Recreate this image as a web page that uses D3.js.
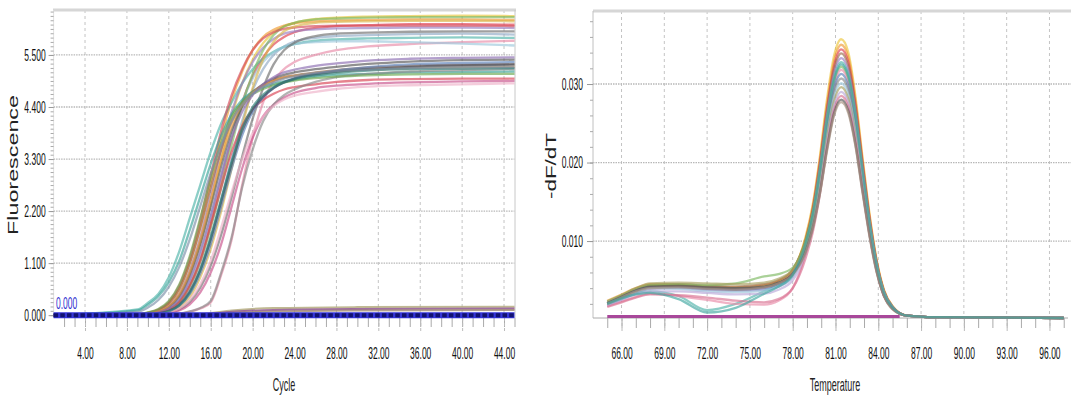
<!DOCTYPE html>
<html>
<head>
<meta charset="utf-8">
<script src="https://cdn.jsdelivr.net/npm/d3@7"></script>
<style>
  body { margin: 0; background: #fff; }
  svg { display: block; font-family: "Liberation Sans", Arial, sans-serif; }
</style>
</head>
<body>
<svg id="chart" width="1071" height="400"></svg>
<script>
// ---- amplification plot data (Fluorescence vs Cycle) ----
var ampCycles = [1, 9, 10, 11, 12, 13, 14, 15, 16, 17, 18, 19, 20, 21, 22, 23, 24, 26, 28, 31, 35, 40, 45];

var ampColors = [
  '#e8c53a', '#e03c4c', '#f09a30', '#8fa9c4', '#4fb3a9', '#e88aa8', '#9cc8dc', '#6d6d6d', '#9a7cc0', '#7cb861',
  '#d44a5a', '#d9b34a',
  '#555555', '#9b6a4a', '#3aa39a', '#d94052', '#e8963a', '#5a7fb8', '#c8508a', '#888888', '#6aa84f', '#8a6cb0',
  '#3d4a5c', '#eeb0c8', '#2f7f7a', '#7b8fa8'
];

var ampValues = [
  // upper plateau group
  [0, 0.01, 0.03, 0.07, 0.17, 0.4, 0.85, 1.5, 2.35, 3.3, 4.2, 4.9, 5.4, 5.75, 5.97, 6.1, 6.18, 6.26, 6.29, 6.31, 6.32, 6.33, 6.32],
  [0, 0, 0.02, 0.05, 0.12, 0.3, 0.65, 1.2, 1.95, 2.85, 3.75, 4.5, 5.05, 5.45, 5.72, 5.88, 5.98, 6.07, 6.11, 6.13, 6.15, 6.15, 6.14],
  [0, 0.02, 0.05, 0.11, 0.25, 0.55, 1.1, 1.85, 2.8, 3.75, 4.55, 5.15, 5.6, 5.88, 6.03, 6.12, 6.17, 6.21, 6.23, 6.24, 6.25, 6.25, 6.24],
  [0, 0, 0.01, 0.04, 0.1, 0.24, 0.52, 1.0, 1.65, 2.45, 3.3, 4.1, 4.75, 5.2, 5.5, 5.68, 5.78, 5.86, 5.9, 5.92, 5.94, 5.95, 5.93],
  [0, 0.12, 0.26, 0.45, 0.8, 1.35, 2.05, 2.75, 3.45, 4.05, 4.5, 4.9, 5.2, 5.42, 5.57, 5.67, 5.73, 5.8, 5.83, 5.85, 5.86, 5.87, 5.86],
  [0, 0, 0, 0, 0.01, 0.03, 0.07, 0.14, 0.27, 0.85, 1.6, 2.75, 3.75, 4.5, 4.95, 5.2, 5.35, 5.5, 5.6, 5.68, 5.73, 5.77, 5.8],
  [0, 0.01, 0.02, 0.06, 0.14, 0.33, 0.72, 1.3, 2.1, 2.95, 3.8, 4.5, 5.0, 5.35, 5.55, 5.67, 5.73, 5.77, 5.79, 5.79, 5.77, 5.74, 5.7],
  [0, 0, 0, 0.02, 0.05, 0.12, 0.28, 0.58, 1.05, 1.7, 2.5, 3.35, 4.15, 4.8, 5.3, 5.6, 5.76, 5.9, 5.95, 5.97, 5.99, 6.0, 6.0],
  [0, 0.01, 0.04, 0.09, 0.2, 0.46, 0.95, 1.65, 2.55, 3.5, 4.3, 4.9, 5.35, 5.65, 5.84, 5.95, 6.0, 6.04, 6.06, 6.07, 6.08, 6.08, 6.07],
  [0, 0, 0.02, 0.05, 0.11, 0.27, 0.6, 1.12, 1.85, 2.7, 3.6, 4.45, 5.1, 5.6, 5.92, 6.1, 6.18, 6.25, 6.27, 6.29, 6.3, 6.3, 6.3],
  [0, 0.02, 0.05, 0.12, 0.28, 0.62, 1.2, 2.0, 2.95, 3.9, 4.65, 5.2, 5.6, 5.85, 5.98, 6.05, 6.08, 6.11, 6.12, 6.12, 6.12, 6.12, 6.11],
  [0, 0, 0.01, 0.03, 0.07, 0.16, 0.38, 0.8, 1.4, 2.2, 3.1, 4.0, 4.8, 5.4, 5.78, 6.0, 6.1, 6.18, 6.2, 6.21, 6.22, 6.22, 6.21],
  // lower plateau group
  [0, 0.01, 0.03, 0.07, 0.17, 0.4, 0.85, 1.5, 2.3, 3.15, 3.9, 4.4, 4.7, 4.88, 5.0, 5.08, 5.13, 5.2, 5.25, 5.31, 5.36, 5.39, 5.4],
  [0, 0.02, 0.05, 0.11, 0.25, 0.56, 1.1, 1.85, 2.7, 3.5, 4.1, 4.5, 4.72, 4.86, 4.96, 5.03, 5.07, 5.13, 5.18, 5.23, 5.27, 5.29, 5.3],
  [0, 0.1, 0.22, 0.4, 0.7, 1.15, 1.8, 2.5, 3.2, 3.8, 4.25, 4.55, 4.72, 4.82, 4.89, 4.94, 4.98, 5.04, 5.08, 5.1, 5.13, 5.14, 5.15],
  [0, 0, 0.02, 0.05, 0.12, 0.28, 0.62, 1.15, 1.9, 2.7, 3.45, 4.0, 4.35, 4.55, 4.68, 4.77, 4.82, 4.88, 4.93, 4.97, 4.99, 5.0, 5.0],
  [0, 0.01, 0.03, 0.08, 0.19, 0.45, 0.92, 1.6, 2.45, 3.3, 4.0, 4.45, 4.7, 4.85, 4.95, 5.02, 5.06, 5.11, 5.15, 5.19, 5.22, 5.24, 5.25],
  [0, 0, 0.01, 0.03, 0.08, 0.2, 0.45, 0.88, 1.5, 2.3, 3.1, 3.8, 4.3, 4.6, 4.8, 4.93, 5.01, 5.1, 5.17, 5.24, 5.3, 5.33, 5.35],
  [0, 0, 0, 0.02, 0.04, 0.1, 0.23, 0.48, 0.9, 1.5, 2.3, 3.1, 3.75, 4.2, 4.45, 4.6, 4.7, 4.8, 4.85, 4.89, 4.92, 4.94, 4.95],
  [0, 0, 0, 0, 0.01, 0.03, 0.08, 0.15, 0.3, 0.9, 1.65, 2.7, 3.5, 4.1, 4.45, 4.65, 4.77, 4.93, 5.03, 5.1, 5.15, 5.18, 5.2],
  [0, 0.02, 0.06, 0.13, 0.3, 0.65, 1.25, 2.05, 2.9, 3.65, 4.2, 4.5, 4.67, 4.78, 4.86, 4.92, 4.96, 5.01, 5.04, 5.07, 5.09, 5.1, 5.1],
  [0, 0.01, 0.02, 0.06, 0.14, 0.34, 0.75, 1.35, 2.1, 2.95, 3.75, 4.3, 4.65, 4.88, 5.03, 5.13, 5.19, 5.27, 5.32, 5.38, 5.42, 5.44, 5.45],
  [0, 0, 0.01, 0.04, 0.09, 0.22, 0.5, 0.95, 1.6, 2.4, 3.2, 3.9, 4.35, 4.62, 4.8, 4.92, 5.0, 5.09, 5.15, 5.2, 5.25, 5.28, 5.3],
  [0, 0, 0.01, 0.02, 0.06, 0.14, 0.32, 0.65, 1.15, 1.85, 2.6, 3.3, 3.85, 4.2, 4.42, 4.56, 4.64, 4.72, 4.78, 4.83, 4.86, 4.88, 4.9],
  [0, 0, 0.01, 0.03, 0.08, 0.2, 0.47, 0.95, 1.65, 2.45, 3.25, 3.95, 4.4, 4.66, 4.82, 4.92, 4.99, 5.07, 5.12, 5.17, 5.2, 5.21, 5.22],
  [0, 0.07, 0.16, 0.32, 0.6, 1.02, 1.6, 2.3, 3.0, 3.6, 4.1, 4.45, 4.68, 4.82, 4.92, 5.0, 5.05, 5.12, 5.16, 5.19, 5.22, 5.24, 5.25]
];

// negative controls, flat near zero
var negCycles = [1, 15, 18, 22, 30, 45];
var negValues = [
  [0.02, 0.03, 0.1, 0.15, 0.17, 0.18],
  [0.01, 0.02, 0.07, 0.11, 0.13, 0.14],
  [0.01, 0.02, 0.05, 0.08, 0.1, 0.11]
];
var negColors = ['#b0a878', '#8a4a8a', '#a08870'];

var thresholdValue = 0;
var ampYTicks = [0, 1.1, 2.2, 3.3, 4.4, 5.5];
var ampXTicks = [4, 8, 12, 16, 20, 24, 28, 32, 36, 40, 44];

// ---- melt curve data (-dF/dT vs Temperature) ----
var meltTemps = [65, 66, 67, 68, 70, 72, 74, 76, 77, 78, 78.9, 79.4, 79.9, 80.4, 80.9, 81.4, 81.9, 82.4, 82.9, 83.4, 83.9, 84.4, 85, 86, 88, 97];

var meltColors = [
  '#ecc63c', '#ef9a35', '#dd3f4f', '#9b6a4a', '#9a7cc0', '#4fb3a9', '#7cb861', '#e88aa8', '#5a7fb8',
  '#888888', '#9cc8dc', '#a8a060', '#b8a8d8', '#d87090', '#555555', '#a89080', '#3fa6a0'
];

var meltValues = [
  [.0022, .0030, .0038, .0043, .0043, .0041, .0040, .0043, .0048, .0062, .0105, .0146, .0207, .0280, .0336, .0357, .0340, .0284, .0206, .0133, .0075, .0038, .0017, .0005, .0003, .0002],
  [.0024, .0032, .0040, .0045, .0044, .0042, .0041, .0044, .0049, .0063, .0103, .0143, .0203, .0274, .0329, .0350, .0334, .0279, .0202, .0130, .0073, .0037, .0017, .0005, .0003, .0002],
  [.0020, .0029, .0037, .0042, .0042, .0040, .0039, .0041, .0046, .0059, .0100, .0140, .0199, .0268, .0323, .0344, .0328, .0274, .0199, .0128, .0072, .0036, .0016, .0005, .0003, .0002],
  [.0021, .0030, .0039, .0044, .0045, .0043, .0042, .0045, .0050, .0064, .0101, .0139, .0196, .0265, .0318, .0339, .0323, .0270, .0196, .0126, .0071, .0036, .0016, .0005, .0003, .0002],
  [.0018, .0026, .0034, .0039, .0040, .0038, .0037, .0038, .0042, .0055, .0095, .0134, .0192, .0260, .0313, .0333, .0317, .0265, .0192, .0124, .0070, .0035, .0016, .0005, .0003, .0002],
  [.0019, .0026, .0033, .0036, .0030, .0012, .0020, .0036, .0044, .0058, .0097, .0134, .0190, .0256, .0308, .0328, .0312, .0261, .0189, .0122, .0069, .0035, .0016, .0005, .0003, .0002],
  [.0023, .0031, .0039, .0044, .0045, .0044, .0046, .0055, .0058, .0066, .0100, .0135, .0187, .0252, .0303, .0322, .0306, .0256, .0186, .0120, .0068, .0034, .0015, .0005, .0003, .0002],
  [.0017, .0023, .0029, .0033, .0030, .0025, .0020, .0019, .0024, .0040, .0085, .0124, .0180, .0246, .0298, .0318, .0302, .0253, .0184, .0119, .0067, .0034, .0015, .0005, .0003, .0002],
  [.0021, .0029, .0037, .0041, .0041, .0039, .0038, .0040, .0045, .0058, .0094, .0129, .0180, .0244, .0294, .0313, .0297, .0249, .0181, .0117, .0066, .0033, .0015, .0005, .0003, .0002],
  [.0020, .0028, .0036, .0041, .0042, .0041, .0040, .0042, .0047, .0059, .0093, .0127, .0177, .0240, .0289, .0307, .0292, .0244, .0178, .0115, .0065, .0032, .0015, .0005, .0003, .0002],
  [.0022, .0029, .0036, .0040, .0039, .0036, .0035, .0037, .0042, .0054, .0088, .0122, .0172, .0234, .0283, .0301, .0286, .0240, .0175, .0113, .0064, .0032, .0014, .0005, .0003, .0002],
  [.0023, .0031, .0040, .0046, .0047, .0046, .0045, .0047, .0052, .0063, .0094, .0125, .0172, .0231, .0278, .0296, .0281, .0235, .0171, .0111, .0063, .0031, .0014, .0005, .0003, .0002],
  [.0018, .0025, .0032, .0036, .0036, .0034, .0032, .0033, .0038, .0050, .0083, .0116, .0164, .0224, .0272, .0290, .0276, .0231, .0168, .0109, .0062, .0031, .0014, .0005, .0003, .0002],
  [.0016, .0022, .0028, .0032, .0031, .0028, .0024, .0022, .0026, .0040, .0078, .0111, .0159, .0219, .0267, .0285, .0271, .0227, .0165, .0107, .0061, .0030, .0014, .0005, .0003, .0002],
  [.0021, .0029, .0037, .0042, .0043, .0041, .0040, .0042, .0047, .0058, .0087, .0117, .0161, .0217, .0263, .0280, .0266, .0223, .0163, .0106, .0060, .0030, .0014, .0005, .0003, .0002],
  [.0020, .0028, .0036, .0040, .0041, .0039, .0038, .0041, .0046, .0057, .0085, .0115, .0159, .0214, .0260, .0277, .0263, .0221, .0161, .0104, .0059, .0030, .0013, .0005, .0003, .0002],
  [.0020, .0027, .0032, .0034, .0026, .0009, .0015, .0033, .0042, .0057, .0096, .0132, .0186, .0252, .0304, .0325, .0309, .0259, .0188, .0121, .0068, .0034, .0015, .0005, .0003, .0002]
];

var meltNegTemps = [65, 85.5];
var meltNegValues = [0.0004, 0.0004];
var meltYTicks = [0.01, 0.02, 0.03];
var meltXTicks = [66, 69, 72, 75, 78, 81, 84, 87, 90, 93, 96];

// text in the source screenshot is squeezed sideways
var SX = 0.5;
var svg = d3.select('#chart');

function squeezeTicks(axisG, xOff) {
  axisG.selectAll('text')
    .attr('font-size', 17)
    .attr('fill', '#111')
    .attr('font-family', '"Liberation Sans", Arial, sans-serif')
    .attr('transform', 'scale(' + SX + ',1)');
  if (xOff !== undefined) { axisG.selectAll('text').attr('x', xOff / SX); }
}

function hText(x, y, str, size, color, anchor) {
  return svg.append('text')
    .attr('transform', 'translate(' + x + ',' + y + ') scale(' + SX + ',1)')
    .attr('text-anchor', anchor || 'middle')
    .attr('font-size', size)
    .attr('fill', color)
    .text(str);
}

function vText(x, y, str, len) {
  return svg.append('text')
    .attr('transform', 'translate(' + x + ',' + y + ') rotate(-90)')
    .attr('text-anchor', 'middle')
    .attr('dominant-baseline', 'central')
    .attr('font-size', 15)
    .attr('fill', '#222')
    .attr('textLength', len)
    .attr('lengthAdjust', 'spacingAndGlyphs')
    .text(str);
}

/* ============ left chart: amplification ============ */
var xA = d3.scaleLinear().domain([1, 45]).range([53.6, 514.5]);
var yA = d3.scaleLinear().domain([-0.06, 6.45]).range([318, 10]);
var gA = svg.append('g');

// grid
gA.selectAll('.vgrid').data(ampXTicks).enter().append('line')
  .attr('x1', function(d) { return xA(d); }).attr('x2', function(d) { return xA(d); })
  .attr('y1', 10).attr('y2', 318)
  .attr('stroke', '#c4c4c4').attr('stroke-dasharray', '3,3');
gA.selectAll('.hgrid').data(ampYTicks.slice(1)).enter().append('line')
  .attr('x1', 53.6).attr('x2', 514.5)
  .attr('y1', function(d) { return yA(d); }).attr('y2', function(d) { return yA(d); })
  .attr('stroke', '#b8b8b8').attr('stroke-width', 1.3).attr('stroke-dasharray', '1.5,1');

// frame
gA.append('line').attr('x1', 53).attr('x2', 516).attr('y1', 10).attr('y2', 10)
  .attr('stroke', '#d6d6d6').attr('stroke-width', 3);
gA.append('line').attr('x1', 515).attr('x2', 515).attr('y1', 10).attr('y2', 318)
  .attr('stroke', '#c8c8c8');
gA.append('line').attr('x1', 53.6).attr('x2', 53.6).attr('y1', 10).attr('y2', 318)
  .attr('stroke', '#e0e0e0');

// axes
var minorY = d3.range(0, 6.45, 1.1 / 12);
var ayMinor = gA.append('g').attr('transform', 'translate(53.6,0)')
  .call(d3.axisLeft(yA).tickValues(minorY).tickSize(3).tickFormat(''));
ayMinor.select('.domain').remove();
ayMinor.selectAll('line').attr('stroke', '#aaa');

var ay = gA.append('g').attr('transform', 'translate(53.6,0)')
  .call(d3.axisLeft(yA).tickValues(ampYTicks).tickSize(5).tickFormat(d3.format('.3f')));
ay.select('.domain').remove();
ay.selectAll('line').attr('stroke', '#999');
squeezeTicks(ay, -8);

var axMinor = gA.append('g').attr('transform', 'translate(0,318)')
  .call(d3.axisBottom(xA).tickValues(d3.range(2, 46)).tickSize(9).tickFormat(''));
axMinor.select('.domain').remove();
axMinor.selectAll('line').attr('stroke', '#aaa');

var ax = gA.append('g').attr('transform', 'translate(0,318)')
  .call(d3.axisBottom(xA).tickValues(ampXTicks).tickSize(14).tickFormat(d3.format('.2f')));
ax.select('.domain').remove();
ax.selectAll('line').attr('stroke', '#bbb').attr('stroke-dasharray', '3,2');
ax.selectAll('text').attr('y', 29);
squeezeTicks(ax);

// curves
var ampLine = d3.line()
  .x(function(d, i) { return xA(ampCycles[i]); })
  .y(function(d) { return yA(d); })
  .curve(d3.curveMonotoneX);

gA.selectAll('.amp').data(ampValues).enter().append('path')
  .attr('d', ampLine)
  .attr('fill', 'none')
  .attr('stroke', function(d, i) { return ampColors[i]; })
  .attr('stroke-width', 2.3)
  .attr('stroke-opacity', 0.65);

var negLine = d3.line()
  .x(function(d, i) { return xA(negCycles[i]); })
  .y(function(d) { return yA(d); })
  .curve(d3.curveMonotoneX);

gA.selectAll('.neg').data(negValues).enter().append('path')
  .attr('d', negLine)
  .attr('fill', 'none')
  .attr('stroke', function(d, i) { return negColors[i]; })
  .attr('stroke-width', 2)
  .attr('stroke-opacity', 0.8);

// threshold bar
gA.append('line')
  .attr('x1', xA(1)).attr('x2', xA(45))
  .attr('y1', yA(thresholdValue)).attr('y2', yA(thresholdValue))
  .attr('stroke', '#3535d8').attr('stroke-width', 6);
gA.append('line')
  .attr('x1', xA(1)).attr('x2', xA(45))
  .attr('y1', yA(thresholdValue)).attr('y2', yA(thresholdValue))
  .attr('stroke', '#121270').attr('stroke-width', 4).attr('stroke-dasharray', '4.5,2.2');
hText(56, yA(thresholdValue) - 6, d3.format('.3f')(thresholdValue), 17, '#2f2fd0', 'start');

vText(12, 165, 'Fluorescence', 140);
hText(284, 391, 'Cycle', 18, '#222');

/* ============ right chart: melt curve ============ */
var xM = d3.scaleLinear().domain([64, 97.3]).range([593, 1068]);
var yM = d3.scaleLinear().domain([0.0002, 0.0393]).range([318, 11]);
var gM = svg.append('g');

gM.selectAll('.vgrid').data(meltXTicks).enter().append('line')
  .attr('x1', function(d) { return xM(d); }).attr('x2', function(d) { return xM(d); })
  .attr('y1', 11).attr('y2', 318)
  .attr('stroke', '#c4c4c4').attr('stroke-dasharray', '3,3');
gM.selectAll('.hgrid').data(meltYTicks).enter().append('line')
  .attr('x1', 593).attr('x2', 1071)
  .attr('y1', function(d) { return yM(d); }).attr('y2', function(d) { return yM(d); })
  .attr('stroke', '#b8b8b8').attr('stroke-width', 1.3).attr('stroke-dasharray', '1.5,1');

gM.append('line').attr('x1', 593).attr('x2', 1071).attr('y1', 11).attr('y2', 11)
  .attr('stroke', '#d6d6d6').attr('stroke-width', 3);
gM.append('line').attr('x1', 593).attr('x2', 593).attr('y1', 11).attr('y2', 318)
  .attr('stroke', '#c0c0c0');
gM.append('line').attr('x1', 593).attr('x2', 1068).attr('y1', 318).attr('y2', 318)
  .attr('stroke', '#aaa');

var myMinor = gM.append('g').attr('transform', 'translate(593,0)')
  .call(d3.axisLeft(yM).tickValues(d3.range(0.002, 0.0392, 0.002)).tickSize(3).tickFormat(''));
myMinor.select('.domain').remove();
myMinor.selectAll('line').attr('stroke', '#aaa');

var my = gM.append('g').attr('transform', 'translate(593,0)')
  .call(d3.axisLeft(yM).tickValues(meltYTicks).tickSize(6).tickFormat(d3.format('.3f')));
my.select('.domain').remove();
my.selectAll('line').attr('stroke', '#999');
squeezeTicks(my, -10);

var mxMinor = gM.append('g').attr('transform', 'translate(0,318)')
  .call(d3.axisBottom(xM).tickValues(d3.range(65, 98)).tickSize(10).tickFormat(''));
mxMinor.select('.domain').remove();
mxMinor.selectAll('line').attr('stroke', '#aaa');

var mx = gM.append('g').attr('transform', 'translate(0,318)')
  .call(d3.axisBottom(xM).tickValues(meltXTicks).tickSize(14).tickFormat(d3.format('.2f')));
mx.select('.domain').remove();
mx.selectAll('line').attr('stroke', '#bbb').attr('stroke-dasharray', '3,2');
mx.selectAll('text').attr('y', 29);
squeezeTicks(mx);

var meltLine = d3.line()
  .x(function(d, i) { return xM(meltTemps[i]); })
  .y(function(d) { return yM(d); })
  .curve(d3.curveMonotoneX);

gM.selectAll('.melt').data(meltValues).enter().append('path')
  .attr('d', meltLine)
  .attr('fill', 'none')
  .attr('stroke', function(d, i) { return meltColors[i]; })
  .attr('stroke-width', 2.3)
  .attr('stroke-opacity', 0.65);

var meltNegLine = d3.line()
  .x(function(d, i) { return xM(meltNegTemps[i]); })
  .y(function(d) { return yM(d); });
gM.append('path')
  .attr('d', meltNegLine(meltNegValues))
  .attr('fill', 'none')
  .attr('stroke', '#a8489a')
  .attr('stroke-width', 3);

vText(550, 166, '-dF/dT', 66);
hText(835, 391, 'Temperature', 18, '#222');
</script>
</body>
</html>
